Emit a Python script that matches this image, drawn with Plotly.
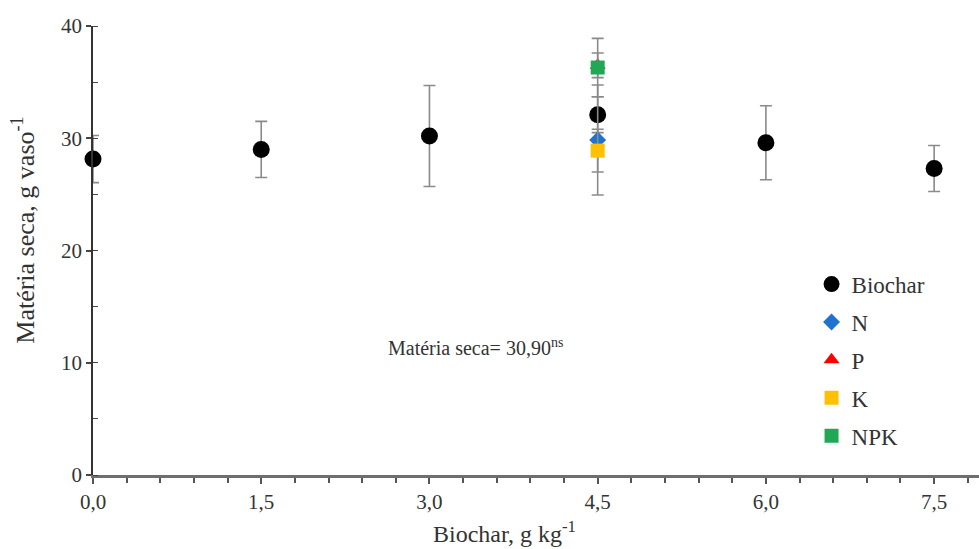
import plotly.graph_objects as go

# Data
biochar_x = [0.0, 1.5, 3.0, 4.5, 6.0, 7.5]
biochar_y = [28.15, 29.0, 30.2, 32.1, 29.6, 27.3]
biochar_err = [2.1, 2.5, 4.5, 1.6, 3.3, 2.05]

n_x = [4.5]; n_y = [29.85]; n_err = [4.9]
p_x = [4.5]; p_y = [36.5]; p_err = [1.1]
k_x = [4.5]; k_y = [28.9]; k_err = [1.9]
npk_x = [4.5]; npk_y = [36.3]; npk_err = [2.6]

x_tickvals = [0.0, 1.5, 3.0, 4.5, 6.0, 7.5]
x_ticktext = ["0,0", "1,5", "3,0", "4,5", "6,0", "7,5"]
y_tickvals = [0, 10, 20, 30, 40]
y_ticktext = ["0", "10", "20", "30", "40"]

FONT = "Liberation Serif, Times New Roman, serif"
TXT = "#333333"
ERRC = "#8a8a8a"

x_minor = [round(i * 0.3, 2) for i in range(0, 27)]
y_minor = [i * 5 for i in range(0, 9)]

fig = go.Figure()

def add(name, xs, ys, errs, symbol, color, size, grp):
    fig.add_trace(go.Scatter(
        x=xs, y=ys, mode="markers", name=name, legendgroup=grp,
        marker=dict(symbol=symbol, color=color, size=size, line=dict(width=0)),
        error_y=dict(type="data", array=errs, visible=True, color=ERRC,
                     thickness=1.6, width=6),
        cliponaxis=False,
    ))

add("Biochar", biochar_x, biochar_y, biochar_err, "circle", "#000000", 17, "b")
add("N", n_x, n_y, n_err, "diamond", "#1F72CF", 13, "n")
add("P", p_x, p_y, p_err, "triangle-up", "#FF0000", 14, "p")
add("K", k_x, k_y, k_err, "square", "#FFC000", 14, "k")
add("NPK", npk_x, npk_y, npk_err, "square", "#1FA855", 14, "npk")

fig.update_layout(
    width=979, height=549,
    margin=dict(l=93, r=0, t=26, b=74),
    paper_bgcolor="white", plot_bgcolor="white",
    font=dict(family=FONT, size=21, color=TXT),
    showlegend=True,
    legend=dict(
        x=0.811, y=0.473, xanchor="left", yanchor="top",
        font=dict(family=FONT, size=23, color=TXT),
        bgcolor="rgba(0,0,0,0)",
        tracegroupgap=5,
        traceorder="grouped",
        itemsizing="trace",
    ),
    xaxis=dict(
        range=[0, 7.9], tickvals=x_tickvals, ticktext=x_ticktext,
        showgrid=False, zeroline=False,
        showline=True, linecolor="#6e6e6e", linewidth=2.5,
        ticks="outside", ticklen=6, tickwidth=1.5, tickcolor="#555555",
        minor=dict(tickvals=x_minor, ticks="outside", ticklen=5,
                   tickwidth=1.5, tickcolor="#555555"),
        tickfont=dict(family=FONT, size=21, color=TXT),
    ),
    yaxis=dict(
        range=[0, 40], tickvals=y_tickvals, ticktext=y_ticktext,
        showgrid=False, zeroline=False,
        showline=True, linecolor="#333333", linewidth=1.6,
        ticks="outside", ticklen=5, tickwidth=1.5, tickcolor="#444444",
        minor=dict(tickvals=y_minor, ticks="inside", ticklen=5,
                   tickwidth=1.4, tickcolor="#444444"),
        tickfont=dict(family=FONT, size=21, color=TXT),
    ),
    annotations=[
        dict(text="Matéria seca= 30,90<sup>ns</sup>", x=3.41, y=11.4,
             xref="x", yref="y", showarrow=False,
             font=dict(family=FONT, size=20, color=TXT)),
        dict(text="Biochar, g kg<sup>-1</sup>", x=0.465, y=-0.127,
             xref="paper", yref="paper", showarrow=False,
             xanchor="center", yanchor="middle",
             font=dict(family=FONT, size=24, color=TXT)),
        dict(text="Matéria seca, g vaso<sup>-1</sup>", x=-0.078, y=0.546,
             xref="paper", yref="paper", showarrow=False, textangle=-90,
             xanchor="center", yanchor="middle",
             font=dict(family=FONT, size=26, color=TXT)),
    ],
)

fig.write_html("out.html")
